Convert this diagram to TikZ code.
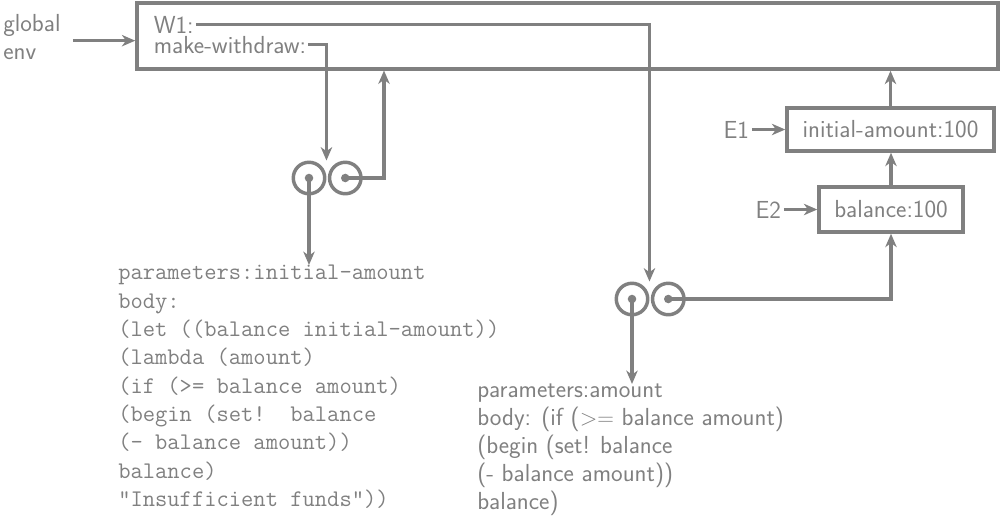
\documentclass[tikz,border=0pt]{standalone}
\usetikzlibrary{positioning,arrows.meta}
\definecolor{envgray}{RGB}{128,128,128}

\begin{document}
\begin{tikzpicture}[x=0.75pt,y=0.75pt,yscale=-1,xscale=1,
    envbox/.style={draw=envgray,line width=2.6pt,inner sep=0pt,text=envgray,font=\sffamily\fontsize{18.5pt}{21pt}\selectfont},
    lbl/.style={text=envgray,inner sep=0pt,align=left,font=\sffamily\fontsize{18.5pt}{21pt}\selectfont},
    codetxt/.style={font=\ttfamily\fontsize{17.9pt}{21.25pt}\selectfont},
    objcirc/.style={circle,draw=envgray,line width=2.6pt,minimum size=23.6pt,inner sep=0pt},
    ptr/.style={draw=envgray,line width=2.6pt,-{Stealth[length=10pt,width=8.5pt,inset=3pt]}}]
        \useasboundingbox (0,0) rectangle (1000,519);

        %Shape: Rectangle [id:global frame]
        \node (gframe) [envbox,minimum width=645.75pt,minimum height=49.5pt] at (567.5,36) {};
        %Shape: Rectangle [id:E1 frame]
        \node (ea) [envbox,minimum width=155.25pt,minimum height=32.25pt] at (890.5,129.5) {initial-amount:100};
        %Shape: Rectangle [id:E2 frame]
        \node (eb) [envbox,minimum width=108pt,minimum height=33.75pt] at (891,209.5) {balance:100};

        %Shape: Circles [id:make-withdraw object]
        \node (p1l) [objcirc] at (309,178) {};
        \node (p1r) [objcirc,right=1pt of p1l] {};
        %Shape: Circles [id:W1 object]
        \node (p2l) [objcirc] at (632,299) {};
        \node (p2r) [objcirc,right=1pt of p2l] {};
        \foreach \c in {p1l,p1r,p2l,p2r}
            \fill [envgray] (\c.center) circle (3.2pt);

        % Text Node
        \node (genv) [lbl,anchor=north west] at (3,14) {global\\env};
        % Text Node
        \node (w1) [lbl,anchor=base west,inner xsep=1.5pt,inner ysep=0pt] at (151.5,33) {W1:};
        % Text Node
        \node (mkw) [lbl,anchor=base west,inner xsep=1.5pt,inner ysep=0pt] at (151.5,53) {make-withdraw:};
        % Text Node
        \node (ealab) [lbl,left=25pt of ea,inner sep=2pt] {E1};
        % Text Node
        \node (eblab) [lbl,left=25pt of eb,inner sep=2pt] {E2};
        % Text Node
        \node (code1) [lbl,codetxt,anchor=north west] at (118,265) {parameters:initial-amount\\body:\\(let ((balance initial-amount))\\(lambda (amount)\\(if (>= balance amount)\\(begin (set!~~balance\\(- balance amount))\\balance)\\"Insufficient funds"))};
        % Text Node
        \node (code2) [lbl,anchor=north west] at (477,384) {parameters:amount\\body: (if (\(>=\) balance amount)\\(begin (set! balance\\(- balance amount))\\balance)};

        \coordinate (ret1) at (384,70.5);

        %Pointers
        \draw [ptr,shorten <=9pt] ([yshift=2.8pt]genv.east) -- ([yshift=2.8pt]genv.east -| gframe.west);
        \draw [ptr] (w1.east) -| (p2l.north -| p2l.east);
        \draw [ptr] (mkw.east) -| (p1l.north -| p1l.east);
        \draw [ptr] (p1r.center) -| (ret1);
        \draw [ptr] (p1l.center) -- (p1l.center |- code1.north);
        \draw [ptr] (p2l.center) -- (p2l.center |- code2.north);
        \draw [ptr] (p2r.center) -| (eb.south);
        \draw [ptr] (eb.north) -- (eb.north |- ea.south);
        \draw [ptr] (ea.north) -- (ea.north |- gframe.south);
        \draw [ptr] (ealab) -- (ea);
        \draw [ptr] (eblab) -- (eb);

\end{tikzpicture}
\end{document}
